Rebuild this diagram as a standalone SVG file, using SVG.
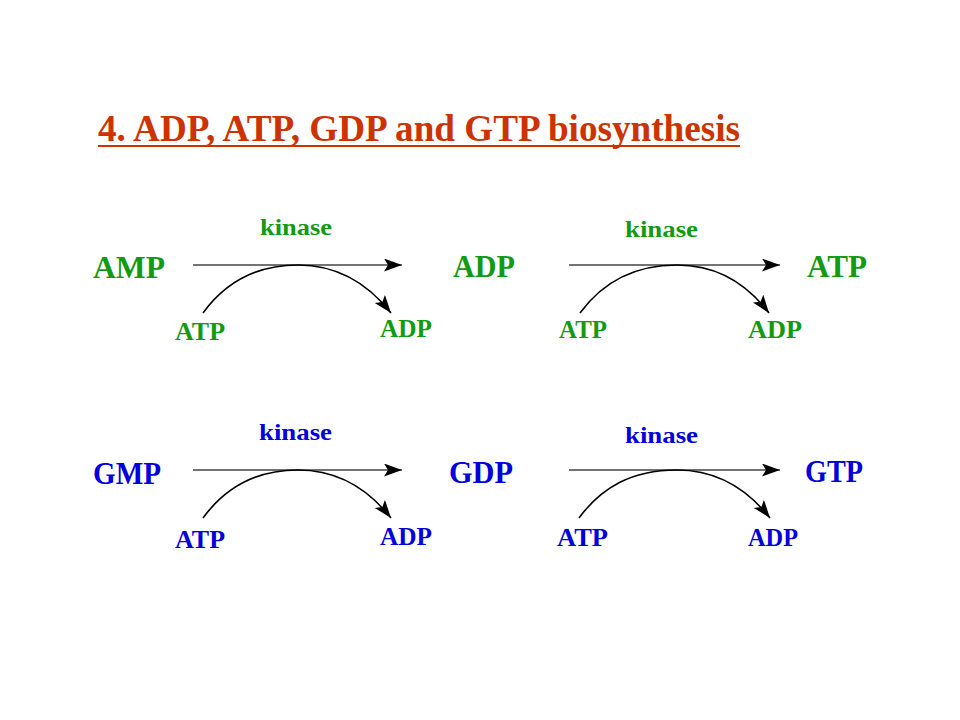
<svg xmlns="http://www.w3.org/2000/svg" width="960" height="720" viewBox="0 0 960 720">
<style>
text{font-family:"Liberation Serif","Times New Roman",serif;font-weight:bold}
.t{fill:#cc3300;font-size:37px}
.g{fill:#139a13}
.b{fill:#0000dd}
.big{font-size:31px}
.sm{font-size:25px}
.k{font-size:24px}
.ln{stroke:#444;stroke-width:1.4;fill:none;marker-end:url(#ah)}
.cv{stroke:#000;stroke-width:1.6;fill:none;marker-end:url(#ah2)}
</style>
<defs>
<marker id="ah" markerUnits="userSpaceOnUse" markerWidth="22" markerHeight="16" refX="18" refY="6.5" orient="auto">
<path d="M0,0 L18,6.5 L0,13 L4,6.5 z" fill="#000"/>
</marker>
<marker id="ah2" markerUnits="userSpaceOnUse" markerWidth="22" markerHeight="16" refX="18" refY="6.5" orient="auto">
<path d="M0,0 L18,6.5 L0,13 L4,6.5 z" fill="#000"/>
</marker>
</defs>
<rect width="960" height="720" fill="#fff"/>
<g id="title">
<text class="t" x="98" y="141" textLength="642" lengthAdjust="spacingAndGlyphs">4. ADP, ATP, GDP and GTP biosynthesis</text>
<rect x="98" y="145" width="642" height="2" fill="#cc3300"/>
</g>
<g id="connectors">
<path class="ln" d="M193,265 L402,265"/>
<path class="cv" d="M203,313 C225,283 255,265 298,265 C335,265 365,280 391,313"/>
<path class="ln" d="M569,265 L780,265"/>
<path class="cv" d="M580,313 C602,283 632,265 677,265 C714,265 744,280 769,313"/>
<path class="ln" d="M193,470 L402,470"/>
<path class="cv" d="M203,518 C225,488 255,470 298,470 C335,470 365,485 391,518"/>
<path class="ln" d="M569,470 L780,470"/>
<path class="cv" d="M579,518 C601,488 631,470 677,470 C714,470 744,485 770,518"/>
</g>
<g id="amp"><text class="g big" x="93" y="278" textLength="72" lengthAdjust="spacingAndGlyphs">AMP</text></g>
<g id="kinase1"><text class="g k" x="260" y="235" textLength="72" lengthAdjust="spacingAndGlyphs">kinase</text></g>
<g id="atp1"><text class="g sm" x="175" y="340" textLength="50" lengthAdjust="spacingAndGlyphs">ATP</text></g>
<g id="adp1"><text class="g sm" x="380" y="337" textLength="52" lengthAdjust="spacingAndGlyphs">ADP</text></g>
<g id="adp"><text class="g big" x="453" y="277" textLength="62" lengthAdjust="spacingAndGlyphs">ADP</text></g>
<g id="kinase2"><text class="g k" x="625" y="237" textLength="73" lengthAdjust="spacingAndGlyphs">kinase</text></g>
<g id="atp2"><text class="g sm" x="559" y="338" textLength="48" lengthAdjust="spacingAndGlyphs">ATP</text></g>
<g id="adp2"><text class="g sm" x="748" y="338" textLength="54" lengthAdjust="spacingAndGlyphs">ADP</text></g>
<g id="atp"><text class="g big" x="807" y="277" textLength="60" lengthAdjust="spacingAndGlyphs">ATP</text></g>
<g id="gmp"><text class="b big" x="93" y="484" textLength="68" lengthAdjust="spacingAndGlyphs">GMP</text></g>
<g id="kinase3"><text class="b k" x="259" y="440" textLength="73" lengthAdjust="spacingAndGlyphs">kinase</text></g>
<g id="atp3"><text class="b sm" x="175" y="548" textLength="50" lengthAdjust="spacingAndGlyphs">ATP</text></g>
<g id="adp3"><text class="b sm" x="380" y="545" textLength="52" lengthAdjust="spacingAndGlyphs">ADP</text></g>
<g id="gdp"><text class="b big" x="449" y="483" textLength="64" lengthAdjust="spacingAndGlyphs">GDP</text></g>
<g id="kinase4"><text class="b k" x="625" y="443" textLength="73" lengthAdjust="spacingAndGlyphs">kinase</text></g>
<g id="atp4"><text class="b sm" x="557" y="546" textLength="51" lengthAdjust="spacingAndGlyphs">ATP</text></g>
<g id="adp4"><text class="b sm" x="748" y="546" textLength="50" lengthAdjust="spacingAndGlyphs">ADP</text></g>
<g id="gtp"><text class="b big" x="805" y="482" textLength="58" lengthAdjust="spacingAndGlyphs">GTP</text></g>
</svg>
